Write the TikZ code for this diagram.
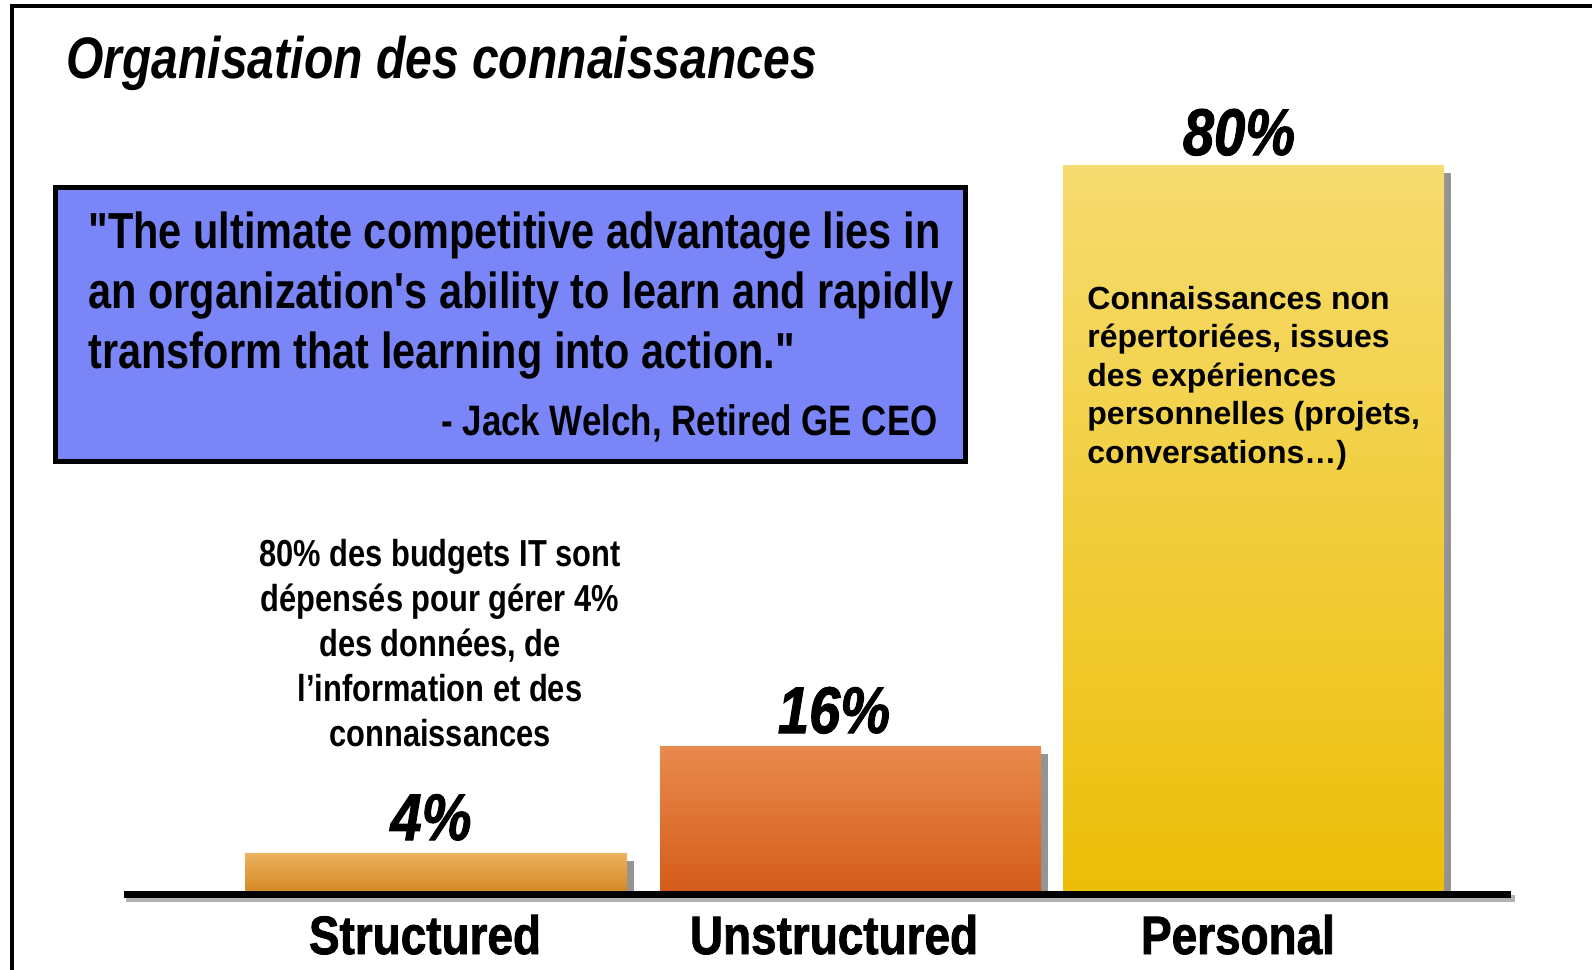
\documentclass[tikz,border=0pt]{standalone}
\usepackage{fontspec}
\setmainfont{Liberation Sans}
\newfontfamily\narrowfont[FakeStretch=0.82,Ligatures=TeXOff]{Liberation Sans}
\newfontfamily\heavyfont[FakeStretch=0.85,FakeBold=1.5]{Liberation Sans}
\usetikzlibrary{positioning}

\definecolor{quoteblue}{RGB}{122,134,248}
\definecolor{structtop}{RGB}{236,178,96}
\definecolor{structbot}{RGB}{212,138,36}
\definecolor{unstructtop}{RGB}{233,138,78}
\definecolor{unstructbot}{RGB}{212,92,26}
\definecolor{perstop}{RGB}{246,220,112}
\definecolor{persbot}{RGB}{236,190,8}

\begin{document}
\begin{tikzpicture}[x=0.5pt,y=-0.5pt,
    pctlabel/.style={anchor=base, inner sep=0, font=\heavyfont\bfseries\itshape\fontsize{33}{36}\selectfont},
    catlabel/.style={anchor=base, inner sep=0, font=\heavyfont\bfseries\fontsize{27}{30}\selectfont},
    barshadow/.style={fill=black!60, opacity=.7}]
  \useasboundingbox (0,0) rectangle (1592,970);

  % Frame
  \draw[line width=2pt] (12,970) -- (12,6) -- (1592,6);

  % Title
  \node[anchor=base west, inner sep=0, font=\narrowfont\bfseries\itshape\fontsize{29.3}{36}\selectfont] (title) at (66,78) {Organisation des connaissances};

  % Quote box (base of a multi-line node = its last line)
  \draw[line width=2.5pt, fill=quoteblue] (55,187) rectangle (965,461);
  \node[anchor=base west, inner sep=0, align=left, font=\narrowfont\bfseries\fontsize{25.3}{30}\selectfont] (quote) at (88,368)
    {"The ultimate competitive advantage lies in\\an organization's ability to learn and rapidly\\transform that learning into action."};
  \node[anchor=base east, inner sep=0, font=\narrowfont\bfseries\fontsize{21.3}{30}\selectfont] (author) at (938,435) {- Jack Welch, Retired GE CEO};

  % Bars
  \fill[barshadow] (627,861) rectangle (634,891);
  \shade[top color=structtop, bottom color=structbot] (245,853) rectangle (627,891);
  \fill[barshadow] (1041,754) rectangle (1048,891);
  \shade[top color=unstructtop, bottom color=unstructbot] (660,746) rectangle (1041,891);
  \fill[barshadow] (1444,173) rectangle (1451,891);
  \shade[top color=perstop, bottom color=persbot] (1063,165) rectangle (1444,891);

  % Axis
  \draw[line width=3.5pt, black!30] (126,898) -- (1515,898);
  \draw[line width=3.5pt] (124,894) -- (1511,894);

  % Percentages
  \node[pctlabel] (pct4) at (431,840) {4\%};
  \node[pctlabel] (pct16) at (834,733) {16\%};
  \node[pctlabel] (pct80) at (1239,155) {80\%};

  % Categories
  \node[catlabel] (structured) at (425,954) {Structured};
  \node[catlabel] (unstructured) at (834,954) {Unstructured};
  \node[catlabel] (personal) at (1238,954) {Personal};

  % Notes
  \node[anchor=base, inner sep=0, align=center, font=\narrowfont\bfseries\fontsize{18.8}{22.5}\selectfont] (budget) at (440,746)
    {80\% des budgets IT sont\\dépensés pour gérer 4\%\\des données, de\\l’information et des\\connaissances};
  \node[anchor=base west, inner sep=0, align=left, font=\bfseries\fontsize{16}{19.25}\selectfont] (tacit) at (1087,463)
    {Connaissances non\\répertoriées, issues\\des expériences\\personnelles (projets,\\conversations…)};
\end{tikzpicture}
\end{document}
